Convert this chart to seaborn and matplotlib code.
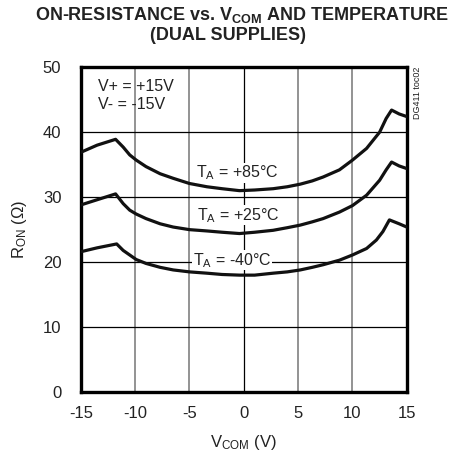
import numpy as np
import pandas as pd
import matplotlib
matplotlib.use("Agg")
import matplotlib.pyplot as plt
import seaborn as sns

# -------------------
# DATA
# -------------------
v_grid = [-15, -13.5, -11.8, -11.1, -10.5, -9.9, -9.0, -7.7, -6.5, -5.0, -3.4, -2.0, -0.4, 1.0,
          2.7, 4.0, 5.2, 6.3, 7.3, 8.8, 10.0, 11.3, 12.5, 13.1, 13.6, 14.3, 15]
r_85 = [36.9, 38.0, 38.9, 37.7, 36.5, 35.7, 34.7, 33.6, 32.9, 32.1, 31.6, 31.3, 31.0, 31.1,
        31.3, 31.6, 32.0, 32.5, 33.1, 34.2, 35.7, 37.5, 40.0, 42.1, 43.4, 42.8, 42.4]
r_25 = [28.8, 29.6, 30.5, 29.0, 28.0, 27.4, 26.7, 25.9, 25.4, 25.0, 24.8, 24.6, 24.4, 24.6,
        24.9, 25.3, 25.7, 26.2, 26.7, 27.7, 28.7, 30.3, 32.6, 34.2, 35.4, 34.8, 34.4]
v_m40 = [-15, -13.5, -11.7, -11.1, -10.5, -9.9, -9.0, -7.7, -6.5, -5.0, -3.4, -2.0, -0.4, 1.0,
         2.7, 4.0, 5.2, 6.3, 7.3, 8.8, 10.0, 11.3, 12.2, 12.8, 13.4, 14.3, 15]
r_m40 = [21.6, 22.2, 22.8, 21.8, 21.1, 20.4, 19.8, 19.2, 18.8, 18.5, 18.3, 18.1, 18.0, 18.0,
         18.3, 18.5, 18.8, 19.2, 19.6, 20.3, 21.1, 22.1, 23.4, 24.7, 26.5, 25.9, 25.4]
temps = ["+85", "+25", "-40"]
x_ticks = [-15, -10, -5, 0, 5, 10, 15]
y_ticks = [0, 10, 20, 30, 40, 50]

df = pd.concat([
    pd.DataFrame({"vcom": v, "ron": r, "temp": t})
    for v, r, t in zip([v_grid, v_grid, v_m40], [r_85, r_25, r_m40], temps)
])

# -------------------
# STYLE
# -------------------
sns.set_style("white")
plt.rcParams["font.family"] = ["Liberation Sans Narrow", "Liberation Sans", "DejaVu Sans"]
plt.rcParams["mathtext.fontset"] = "custom"
plt.rcParams["mathtext.rm"] = "Liberation Sans"

fig = plt.figure(figsize=(4.49, 4.57), dpi=100)
ax = fig.add_axes([0.180, 0.142, 0.726, 0.711])

sns.lineplot(data=df, x="vcom", y="ron", hue="temp", hue_order=temps, sort=False,
             palette=["#111111"] * 3, linewidth=2.3, legend=False, ax=ax, zorder=3)

ax.set_xlim(-15, 15)
ax.set_ylim(0, 50)
ax.set_xticks(x_ticks)
ax.set_yticks(y_ticks)
ax.set_xticklabels([str(v) for v in x_ticks])
ax.tick_params(length=0, labelsize=12, colors="#222222")
ax.tick_params(axis="y", pad=14)
ax.tick_params(axis="x", pad=10)

ax.grid(axis="x", color="#808080", lw=1.2)
ax.grid(axis="y", color="black", lw=0.9)
for i, gl in enumerate(ax.xaxis.get_gridlines()):
    if x_ticks[i] == 0:
        gl.set_color("black")
        gl.set_linewidth(0.9)
for sp in ax.spines.values():
    sp.set_visible(True)
    sp.set_color("black")
    sp.set_linewidth(2.4)

ax.set_xlabel(r"$\mathregular{V_{COM}}$ (V)", fontsize=12, color="#222222", labelpad=9)
ax.set_ylabel(r"$\mathregular{R_{ON}}$ ($\Omega$)", fontsize=12, color="#222222", labelpad=10)

# curve labels
lbl_pos = [(-0.6, 33.7), (-0.5, 27.2), (-1.1, 20.3)]
for t, (x, y) in zip(temps, lbl_pos):
    ax.text(x, y, r"$\mathregular{T_A}$ = " + t + "°C", ha="center", va="center",
            fontsize=11.5, color="#222222", zorder=4,
            bbox=dict(facecolor="white", edgecolor="none", pad=0.5))

ax.text(-13.4, 45.7, "V+ = +15V\nV- = -15V", ha="left", va="center",
        fontsize=11.5, color="#222222", linespacing=1.25)

fig.text(417 / 449, 1 - 67 / 457, "DG411 toc02", rotation=90, ha="center", va="top",
         fontsize=6.5, color="#222222")

fig.text(242 / 449, 1 - 15 / 457, r"ON-RESISTANCE vs. $\mathregular{V_{COM}}$ AND TEMPERATURE",
         ha="center", va="center", fontsize=13, fontweight="bold", color="#222222")
fig.text(228 / 449, 1 - 36 / 457, "(DUAL SUPPLIES)",
         ha="center", va="center", fontsize=13, fontweight="bold", color="#222222")

fig.savefig("out.png", dpi=100)
